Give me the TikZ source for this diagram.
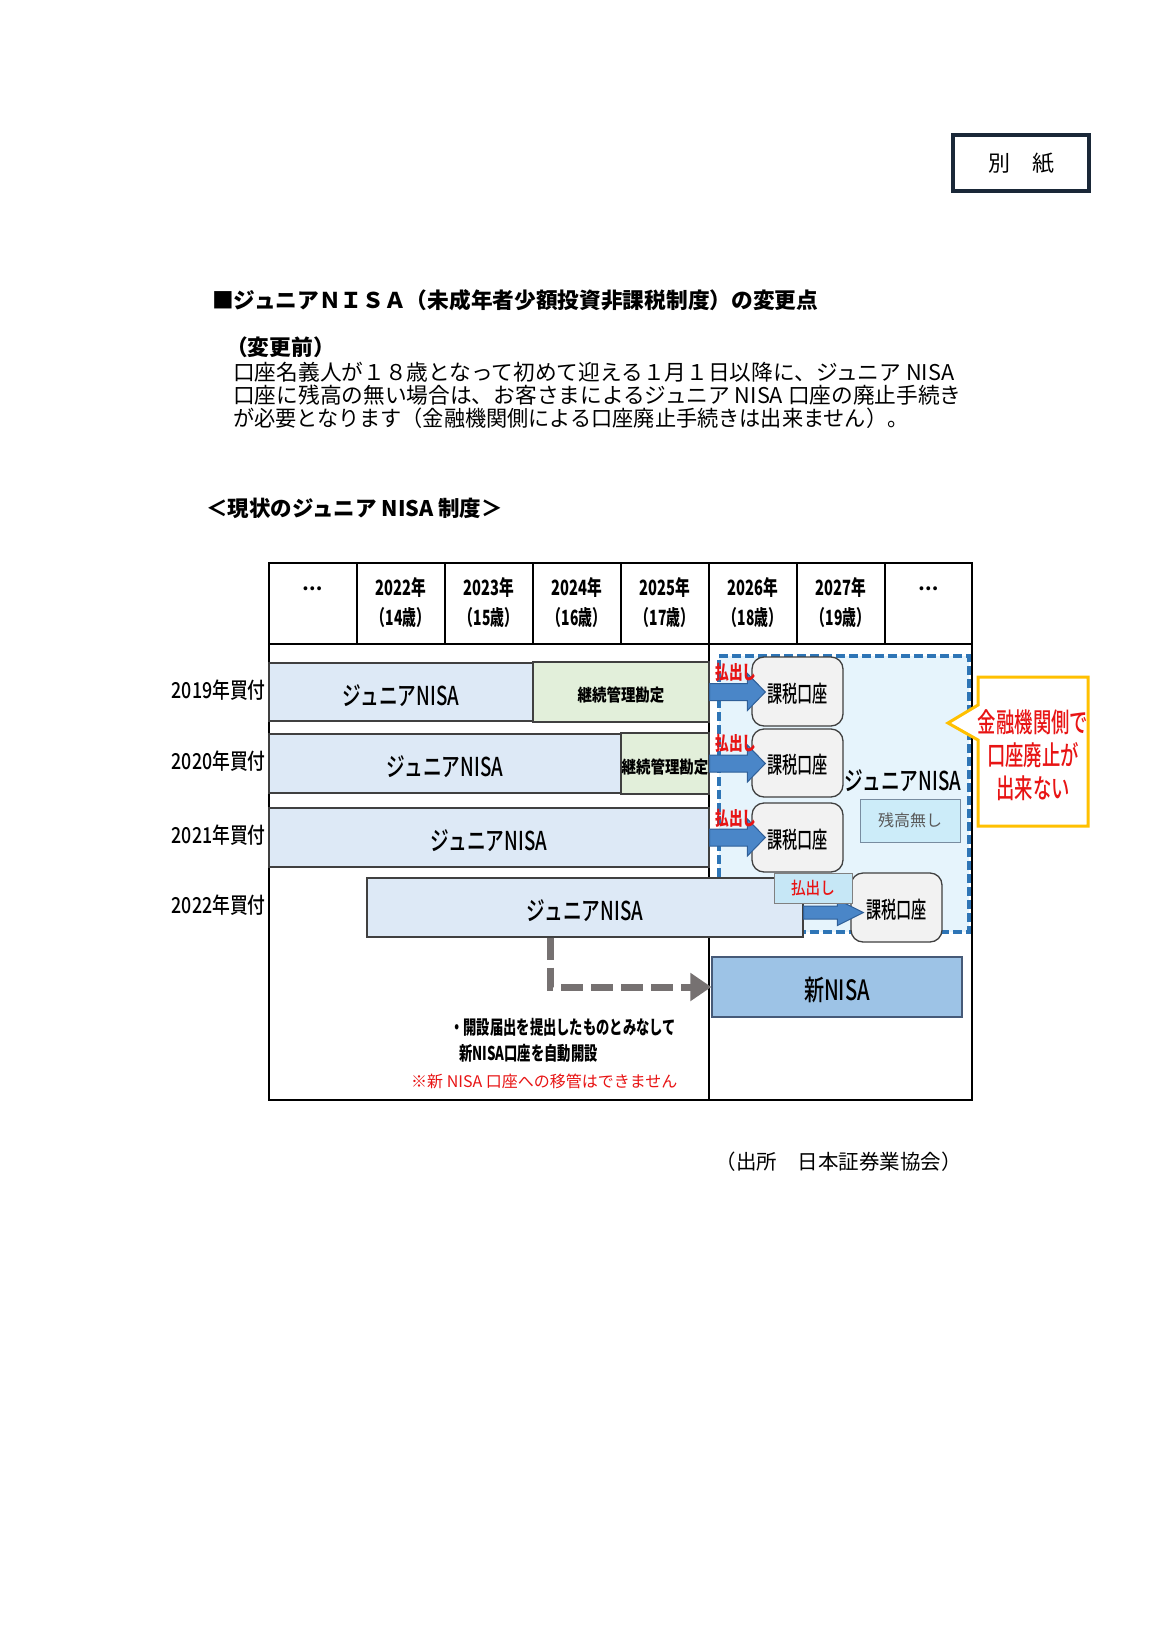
\documentclass[tikz,border=0pt]{standalone}
\usepackage{fontspec}
\setmainfont{Noto Sans CJK JP}
\newfontfamily\jpm{Noto Sans CJK JP Medium}
\usepackage{graphicx}
\usetikzlibrary{arrows.meta,calc}
\definecolor{barblue}{RGB}{221,233,246}
\definecolor{barg}{RGB}{226,239,218}
\definecolor{bordergray}{RGB}{64,64,64}
\definecolor{kazeifill}{RGB}{242,242,242}
\definecolor{kazeiedge}{RGB}{64,64,64}
\definecolor{arrfill}{RGB}{74,134,200}
\definecolor{arredge}{RGB}{47,95,152}
\definecolor{hred}{RGB}{232,20,20}
\definecolor{regionfill}{RGB}{230,244,252}
\definecolor{regionedge}{RGB}{46,117,182}
\definecolor{zanfill}{RGB}{204,236,249}
\definecolor{zanedge}{RGB}{120,140,160}
\definecolor{zantext}{RGB}{89,89,89}
\definecolor{haraifill}{RGB}{198,231,246}
\definecolor{calloutedge}{RGB}{255,192,0}
\definecolor{shinfill}{RGB}{157,195,230}
\definecolor{shinedge}{RGB}{70,90,120}
\definecolor{grayarrow}{RGB}{118,113,113}
\definecolor{navyedge}{RGB}{26,40,56}
\newcommand{\sqz}[2][0.72]{\scalebox{#1}[1]{#2}}
\newcommand{\blockarrow}[5]{%
  \path[blockarr] ($(#1)+(0,#3)$) -- ($(#2)+(-#5,#3)$) -- ($(#2)+(-#5,#4)$) -- (#2)
    -- ($(#2)+(-#5,-#4)$) -- ($(#2)+(-#5,-#3)$) -- ($(#1)+(0,-#3)$) -- cycle;}
\tikzset{
  txt/.style={inner sep=0pt},
  hdr/.style={inner sep=0pt, font=\bfseries\fontsize{21}{24}\selectfont},
  rowlab/.style={anchor=east, inner sep=0pt, font=\jpm\fontsize{22}{26}\selectfont},
  bar/.style={draw=bordergray, line width=1.2pt, fill=barblue, inner sep=0pt,
    text height=26pt, text depth=0pt, font=\jpm\fontsize{26}{30}\selectfont},
  keizoku/.style={draw=bordergray, line width=1.2pt, fill=barg, inner sep=0pt,
    text height=19pt, text depth=0pt, font=\bfseries\fontsize{17}{20}\selectfont},
  kazei/.style={draw=kazeiedge, line width=1.3pt, fill=kazeifill, rounded corners=12pt, inner sep=0pt,
    minimum width=91pt, minimum height=69pt, text height=21.8pt, text depth=0pt, font=\jpm\fontsize{23}{26}\selectfont},
  harai/.style={text=hred, inner sep=0pt, font=\bfseries\fontsize{19}{22}\selectfont},
  blockarr/.style={fill=arrfill, draw=arredge, line width=1pt, line join=miter},
  region/.style={fill=regionfill, draw=regionedge, line width=4pt, dash pattern=on 9pt off 4pt, inner sep=0pt},
}
\begin{document}
\begin{tikzpicture}[x=1pt,y=-1pt]
\useasboundingbox (0,0) rectangle (1170,1651);
\fill[white] (0,0) rectangle (1170,1651);

% top texts
\node[draw=navyedge, line width=3.5pt, minimum width=136pt, minimum height=56pt, inner sep=0pt,
  font=\fontsize{22}{26}\selectfont] (bessi) at (1021,163) {別　紙};
\node[txt, anchor=west, font=\bfseries\fontsize{21.7}{27}\selectfont] (title) at (212,300)
  {■ジュニアＮＩＳＡ（未成年者少額投資非課税制度）の変更点};
\node[txt, anchor=west, font=\bfseries\fontsize{21.7}{26}\selectfont] (before) at (226,347) {（変更前）};
\node[txt, anchor=west, font=\fontsize{21.7}{26}\selectfont] (pa) at (233,372)
  {口座名義人が１８歳となって初めて迎える１月１日以降に、ジュニア NISA};
\node[txt, anchor=west, font=\fontsize{21.7}{26}\selectfont] (pb) at (233,395)
  {口座に残高の無い場合は、お客さまによるジュニア NISA 口座の廃止手続き};
\node[txt, anchor=west, font=\fontsize{21.7}{26}\selectfont] (pc) at (233,418)
  {\sqz[0.975]{が必要となります（金融機関側による口座廃止手続きは出来ません）。}};
\node[txt, anchor=west, font=\bfseries\fontsize{21.5}{26}\selectfont] (sub) at (206,508)
  {＜現状のジュニア NISA 制度＞};

% table frame
\draw[line width=1.3pt] (709,563) -- (709,1100);
\draw[line width=1.5pt] (269,644) -- (972,644);
\foreach \x in {357,445,533,621,797,885} \draw[line width=1.3pt] (\x,563) -- (\x,644);
\draw[line width=2.2pt] (269,563) rectangle (972,1100);

% header
\foreach \cx/\yr/\ag/\nm in {401/2022/14/a,489/2023/15/b,577/2024/16/c,665/2025/17/d,753/2026/18/e,841/2027/19/f} {
  \node[hdr] (yr\nm) at (\cx,587) {\sqz[0.7]{\yr 年}};
  \node[hdr] (ag\nm) at (\cx,618) {\sqz[0.66]{（\ag 歳）}};
}
\node[hdr, font=\bfseries\fontsize{18}{20}\selectfont] (dotl) at (313,589) {…};
\node[hdr, font=\bfseries\fontsize{18}{20}\selectfont] (dotr) at (929,589) {…};

% dashed region
\node[region, minimum width=250pt, minimum height=276pt] (reg) at (844,794) {};

% bars
\node[bar, minimum width=264pt, minimum height=58pt] (b1) at (401,692) {\sqz{ジュニアNISA}};
\node[keizoku, minimum width=176pt, minimum height=60pt] (g1) at (621,692) {\sqz[0.85]{継続管理勘定}};
\node[bar, minimum width=352pt, minimum height=59pt] (b2) at (445,763.5) {\sqz{ジュニアNISA}};
\node[keizoku, minimum width=88pt, minimum height=61pt] (g2) at (665,763.5) {\sqz[0.85]{継続管理勘定}};
\node[bar, minimum width=440pt, minimum height=59pt] (b3) at (489,837.5) {\sqz{ジュニアNISA}};
\node[bar, minimum width=436pt, minimum height=59pt] (b4) at (585,907.5) {\sqz{ジュニアNISA}};

% row labels
\node[rowlab] (r1) at (266,690) {\sqz[0.81]{2019年買付}};
\node[rowlab] (r2) at (266,761.5) {\sqz[0.81]{2020年買付}};
\node[rowlab] (r3) at (266,835.5) {\sqz[0.81]{2021年買付}};
\node[rowlab] (r4) at (266,905.5) {\sqz[0.81]{2022年買付}};

% taxable accounts
\node[kazei] (k1) at (797.5,691.5) {\sqz[0.66]{課税口座}};
\node[kazei, minimum height=68pt] (k2) at (797.5,763) {\sqz[0.66]{課税口座}};
\node[kazei] (k3) at (797.5,837.5) {\sqz[0.66]{課税口座}};
\node[kazei] (k4) at (896.5,907.5) {\sqz[0.66]{課税口座}};

% block arrows
\coordinate (t1) at ($(k1.west |- g1.east)+(14,0)$);
\blockarrow{g1.east}{t1}{8.5}{18.5}{18}
\coordinate (t2) at ($(k2.west |- g2.east)+(14,0)$);
\blockarrow{g2.east}{t2}{8.5}{18.5}{18}
\coordinate (t3) at ($(k3.west |- b3.east)+(14,0)$);
\blockarrow{b3.east}{t3}{8.5}{18.5}{18}
\coordinate (s4) at ($(b4.east)+(0,5)$);
\coordinate (t4) at ($(k4.west |- s4)+(13,0)$);
\blockarrow{s4}{t4}{6.5}{13}{26}

% payout labels
\node[harai] (h1) at (736,672) {\sqz{払出し}};
\node[harai] (h2) at (736,743) {\sqz{払出し}};
\node[harai] (h3) at (736,818) {\sqz{払出し}};
\node[draw=gray, line width=1pt, fill=haraifill, minimum width=78pt, minimum height=30pt, inner sep=0pt,
  text=hred, font=\jpm\fontsize{17}{20}\selectfont] (h4) at (813,888) {\sqz[0.86]{払出し}};

% junior NISA region label and no-balance box
\node[txt, font=\jpm\fontsize{26}{30}\selectfont] (jr) at (903,781) {\sqz{ジュニアNISA}};
\node[draw=zanedge, line width=1pt, fill=zanfill, minimum width=100pt, minimum height=43pt, inner sep=0pt,
  text=zantext, font=\fontsize{16}{18}\selectfont] (zan) at (910,820.5) {残高無し};

% callout
\draw[draw=calloutedge, line width=3pt, fill=white, line join=miter]
  (978,677) -- (1088,677) -- (1088,826) -- (978,826) -- (978,740) -- (948,723) -- (978,705) -- cycle;
\node[txt, text=hred, align=center, font=\jpm\fontsize{27}{33}\selectfont] (cot) at (1033,755)
  {\sqz[0.68]{金融機関側で}\\\sqz[0.68]{口座廃止が}\\\sqz[0.68]{出来ない}};

% new NISA
\node[draw=shinedge, line width=1.3pt, fill=shinfill, minimum width=250pt, minimum height=60pt, inner sep=0pt,
  text height=27pt, text depth=0pt, font=\jpm\fontsize{28}{32}\selectfont] (shin) at (837,987) {\sqz{新NISA}};
\coordinate (gs) at ($(b4.south west)+(184,0)$);
\draw[grayarrow, line width=7pt, dash pattern=on 22pt off 8pt, line join=miter,
  -{Triangle[length=21pt,width=27pt]}] (gs) |- (shin.west);

% notes
\node[txt, anchor=west, font=\bfseries\fontsize{19}{22}\selectfont] (n1) at (450,1027)
  {\sqz[0.7]{・開設届出を提出したものとみなして}};
\node[txt, anchor=west, font=\bfseries\fontsize{19}{22}\selectfont] (n2) at (459,1053)
  {\sqz[0.7]{新NISA口座を自動開設}};
\node[txt, anchor=west, text=hred, font=\fontsize{16}{19}\selectfont] (n3) at (411,1081)
  {※新 NISA 口座への移管はできません};

% source
\node[txt, anchor=east, font=\fontsize{20.5}{24}\selectfont] (src) at (962,1162) {（出所　日本証券業協会）};
\end{tikzpicture}
\end{document}
